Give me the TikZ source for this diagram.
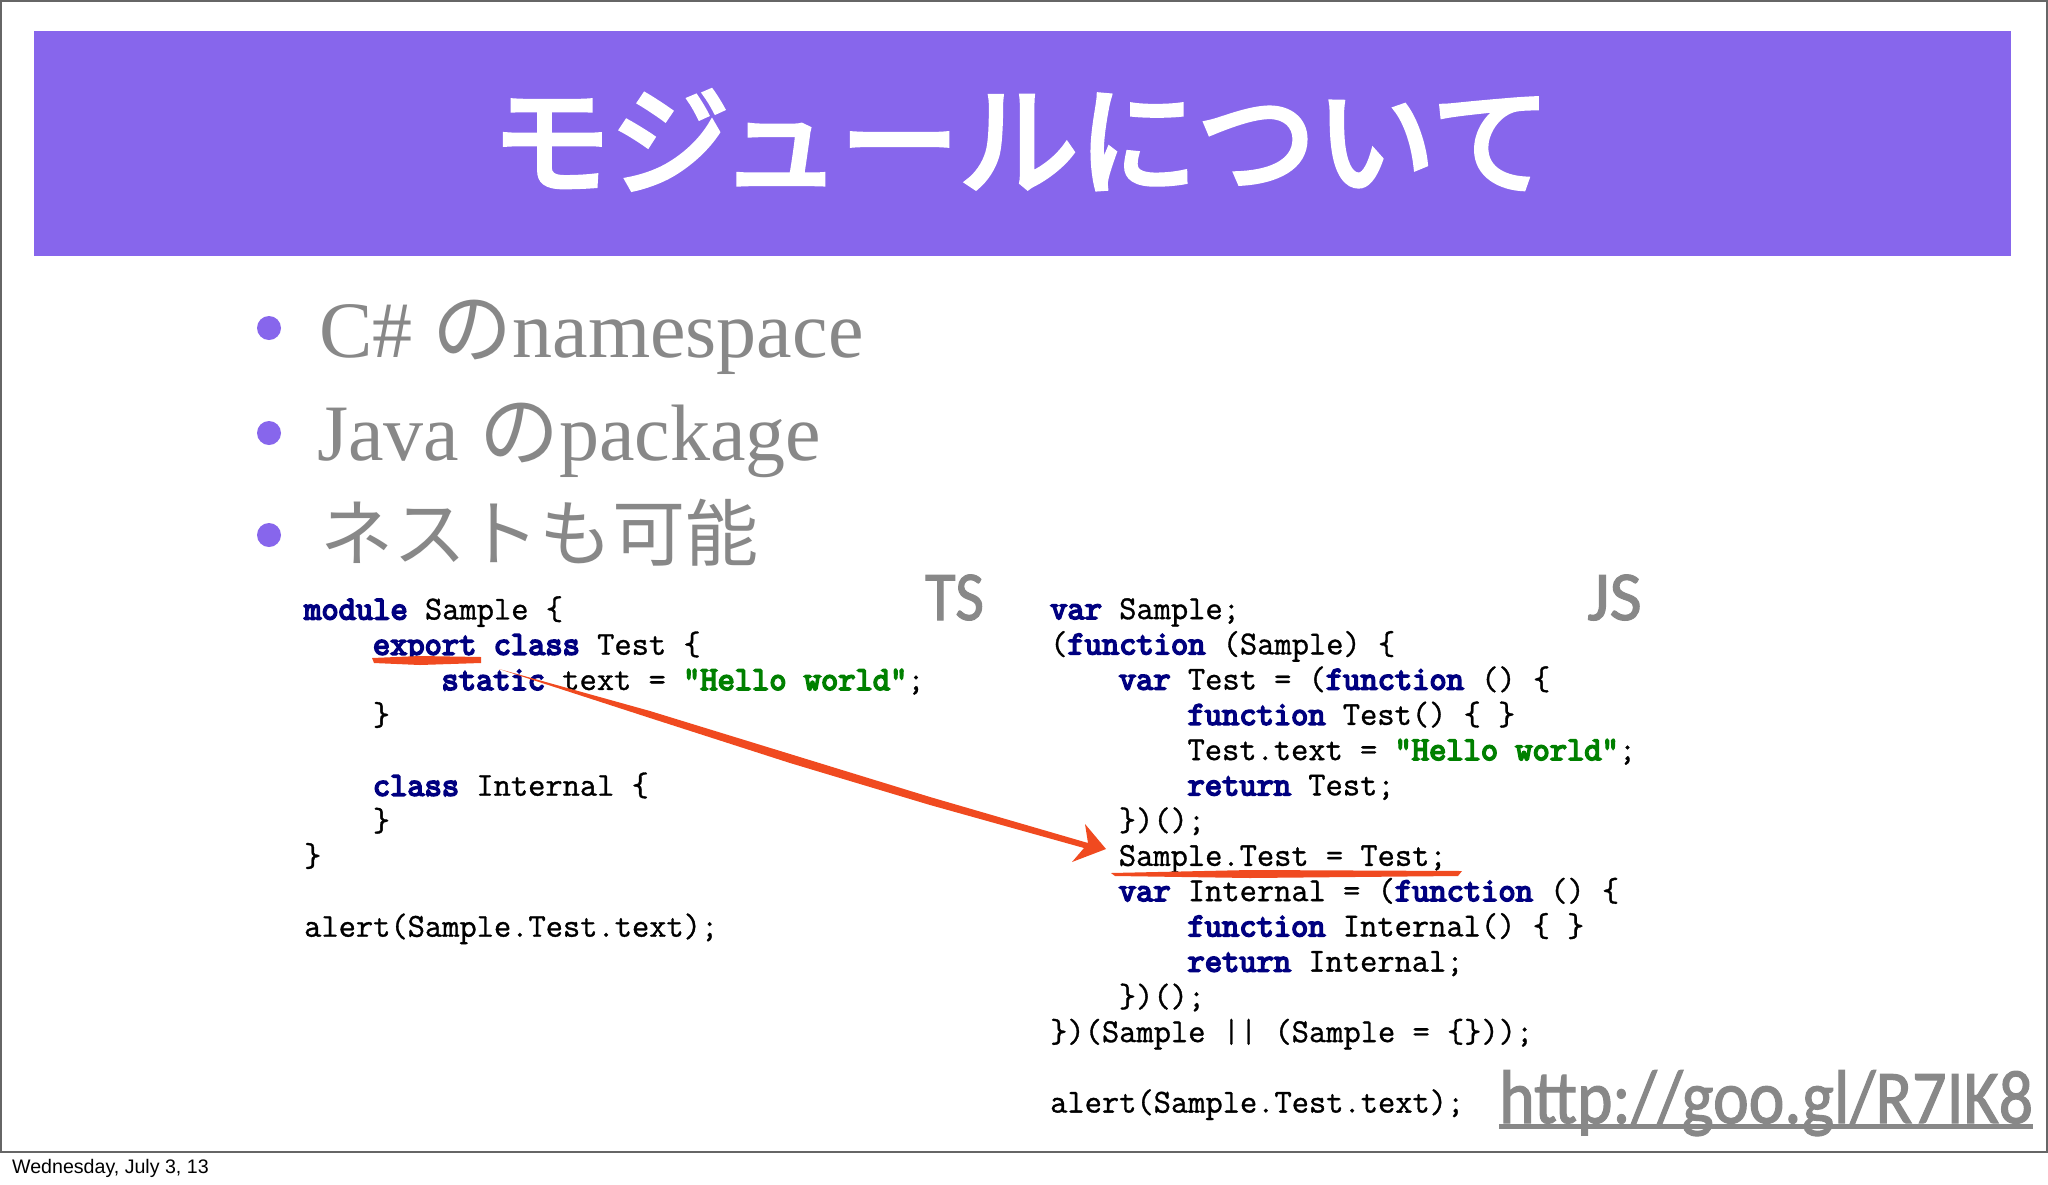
\documentclass[tikz,border=0pt]{standalone}
\usepackage{fontspec}
\usepackage{tikz}
\usetikzlibrary{positioning, calc}
\setmainfont{Liberation Serif}
\setmonofont{Latin Modern Mono}[UprightFeatures={FakeBold=1}, BoldFont={Latin Modern Mono}, BoldFeatures={FakeBold=5}]
\newfontfamily\TitleFont{Noto Sans CJK JP}[FakeBold=4]
\newfontfamily\JaFont{Noto Sans CJK JP}
\newfontfamily\LabelFont{Carlito}[FakeBold=1.5]
\newfontfamily\NarrowFont{Carlito}[FakeStretch=0.89, FakeBold=1.5]
\newfontfamily\DateFont{Liberation Sans}
\definecolor{bandpurple}{HTML}{8766EC}
\definecolor{slidegray}{HTML}{888888}
\definecolor{inkred}{HTML}{F04A20}
\definecolor{kwnavy}{HTML}{000080}
\definecolor{strgreen}{HTML}{008000}
\newcommand{\Kw}[1]{\textbf{\textcolor{kwnavy}{#1}}}
\newcommand{\Str}[1]{\textbf{\textcolor{strgreen}{#1}}}
\newcommand{\Ind}{\hspace*{2.05em}}
\newcommand{\Ja}[1]{{\JaFont #1}}
\tikzset{
    band/.style={fill=bandpurple, draw=none},
    dot/.style={circle, fill=bandpurple, draw=none, minimum size=24pt, inner sep=0pt},
    bullet/.style={anchor=base west, inner sep=0pt, text=slidegray, font=\fontsize{80}{90}\selectfont},
    code/.style={anchor=north west, inner sep=0pt, align=left, text=black,
        font=\ttfamily\fontsize{33.5}{35.25}\selectfont},
    lang/.style={anchor=base west, inner sep=0pt, text=slidegray, font=\LabelFont\fontsize{70}{70}\selectfont},
    ink/.style={fill=inkred, draw=none},
}
\begin{document}
\begin{tikzpicture}[x=1pt, y=-1pt]
    \useasboundingbox (0,0) rectangle (2048,1184);
    \fill[white] (0,0) rectangle (2048,1184);
    \draw[line width=2pt, color=black!60] (1,1) rectangle (2047,1152);

    \fill[band] (34,31) rectangle (2011,256);
    \node[inner sep=0pt, text=white, font=\TitleFont\fontsize{119}{119}\selectfont] (title) at (1021,140) {モジュールについて};

    \node[dot] (b1) at (269,328) {};
    \node[dot] (b2) at (269,433) {};
    \node[dot] (b3) at (269,535) {};
    \node[bullet] (t1) at (319,357) {C\# \Ja{の}namespace};
    \node[bullet] (t2) at (317,460) {Java \Ja{の}package};
    \node[bullet, font=\fontsize{73}{80}\selectfont] (t3) at (320,560) {\Ja{ネストも可能}};

    \node[lang, font=\NarrowFont\fontsize{70}{70}\selectfont] (ts) at (925,620) {TS};
    \node[lang] (js) at (1587,620) {JS};

    \node[code] (tscode) at (304,596) {%
        \Kw{module} Sample \{\\
        \Ind\Kw{export} \Kw{class} Test \{\\
        \Ind\Ind\Kw{static} text = \Str{"Hello world"};\\
        \Ind\}\\
        ~\\
        \Ind\Kw{class} Internal \{\\
        \Ind\}\\
        \}\\
        ~\\
        alert(Sample.Test.text);};

    \node[code] (jscode) at (1050,598) {%
        \Kw{var} Sample;\\
        (\Kw{function} (Sample) \{\\
        \Ind\Kw{var} Test = (\Kw{function} () \{\\
        \Ind\Ind\Kw{function} Test() \{ \}\\
        \Ind\Ind Test.text = \Str{"Hello world"};\\
        \Ind\Ind\Kw{return} Test;\\
        \Ind\})();\\
        \Ind Sample.Test = Test;\\
        \Ind\Kw{var} Internal = (\Kw{function} () \{\\
        \Ind\Ind\Kw{function} Internal() \{ \}\\
        \Ind\Ind\Kw{return} Internal;\\
        \Ind\})();\\
        \})(Sample || (Sample = \{\}));\\
        ~\\
        alert(Sample.Test.text);};

    \node[anchor=base west, inner sep=0pt, text=slidegray, font=\NarrowFont\fontsize{76}{76}\selectfont] (url) at (1499,1123) {http://goo.gl/R7IK8};
    \draw[slidegray, line width=5pt] ($(url.base west)+(0,3)$) -- ($(url.base east)+(0,3)$);

    \node[anchor=base west, inner sep=0pt, font=\DateFont\fontsize{19.6}{20}\selectfont] (date) at (12,1173) {Wednesday, July 3, 13};

    \coordinate (arrowfrom) at (499,669);
    \coordinate (arrowtip) at (1106,849);
    \fill[ink] (arrowfrom) -- (650,711) -- (790,754) -- (930,797) -- (1088,843)
        -- (1085,824) -- (arrowtip) -- (1072,862) -- (1084,848)
        -- (930,805) -- (790,763) -- (650,718) -- cycle;
    \fill[ink] (372,658) -- (420,656) -- (481,657) -- (481,663) -- (420,665) -- (374,663) -- cycle;
    \fill[ink] (1111,873) -- (1250,870) -- (1462,871) -- (1458,876) -- (1250,878) -- (1115,876) -- cycle;
\end{tikzpicture}
\end{document}
